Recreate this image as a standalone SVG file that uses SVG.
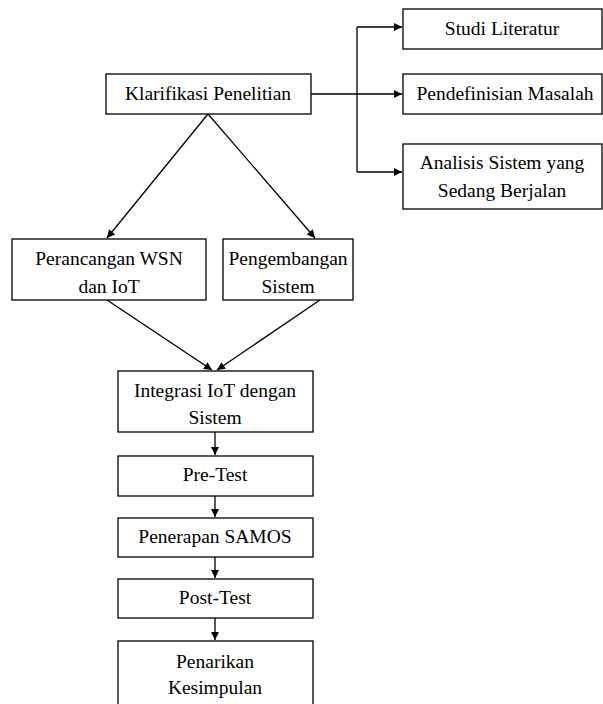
<svg xmlns="http://www.w3.org/2000/svg" width="603" height="704" viewBox="0 0 603 704">
<defs>
<marker id="ah" viewBox="0 0 10 10" refX="10" refY="5" markerWidth="9" markerHeight="8" markerUnits="userSpaceOnUse" orient="auto">
<path d="M0,0 L10,5 L0,10 z" fill="#000"/>
</marker>
<style>
.box{fill:#fff;stroke:#000;stroke-width:1.3}
.t{font-family:"Liberation Serif","Times New Roman",serif;font-size:19.5px;fill:#000;text-anchor:middle}
.c{stroke:#000;stroke-width:1.3;fill:none}
.ca{stroke:#000;stroke-width:1.3;fill:none;marker-end:url(#ah)}
</style>
</defs>
<rect width="603" height="704" fill="#fff"/>
<g id="connectors">
<path class="c" d="M311,94 H357"/>
<path class="c" d="M357,27 V172"/>
<path class="ca" d="M357,27 H402"/>
<path class="ca" d="M357,94 H402"/>
<path class="ca" d="M357,172 H402"/>
<path class="ca" d="M208,114 L107,238"/>
<path class="ca" d="M208,114 L315,238"/>
<path class="ca" d="M107,300 L212,370"/>
<path class="ca" d="M320,300 L217,370"/>
<path class="ca" d="M215,432 V455"/>
<path class="ca" d="M215,496 V517"/>
<path class="ca" d="M215,557 V578"/>
<path class="ca" d="M215,618 V640"/>
</g>
<g id="klarifikasi"><rect class="box" x="106" y="74" width="205" height="40"/><text class="t" x="208" y="100">Klarifikasi Penelitian</text></g>
<g id="studi"><rect class="box" x="403" y="9" width="199" height="40"/><text class="t" x="502" y="35">Studi Literatur</text></g>
<g id="pendefinisian"><rect class="box" x="403" y="74" width="199" height="40"/><text class="t" x="505" y="100">Pendefinisian Masalah</text></g>
<g id="analisis"><rect class="box" x="403" y="144" width="199" height="65"/><text class="t" x="502" y="169">Analisis Sistem yang</text><text class="t" x="502" y="197">Sedang Berjalan</text></g>
<g id="perancangan"><rect class="box" x="12" y="239" width="194" height="61"/><text class="t" x="109" y="265">Perancangan WSN</text><text class="t" x="109" y="293">dan IoT</text></g>
<g id="pengembangan"><rect class="box" x="223" y="239" width="130" height="61"/><text class="t" x="288" y="265">Pengembangan</text><text class="t" x="288" y="293">Sistem</text></g>
<g id="integrasi"><rect class="box" x="118" y="371" width="195" height="61"/><text class="t" x="215" y="397">Integrasi IoT dengan</text><text class="t" x="215" y="424">Sistem</text></g>
<g id="pretest"><rect class="box" x="118" y="456" width="195" height="40"/><text class="t" x="215" y="481">Pre-Test</text></g>
<g id="penerapan"><rect class="box" x="118" y="518" width="195" height="39"/><text class="t" x="215" y="543">Penerapan SAMOS</text></g>
<g id="posttest"><rect class="box" x="118" y="579" width="195" height="39"/><text class="t" x="215" y="604">Post-Test</text></g>
<g id="penarikan"><rect class="box" x="118" y="641" width="195" height="70"/><text class="t" x="215" y="668">Penarikan</text><text class="t" x="215" y="694">Kesimpulan</text></g>
</svg>
